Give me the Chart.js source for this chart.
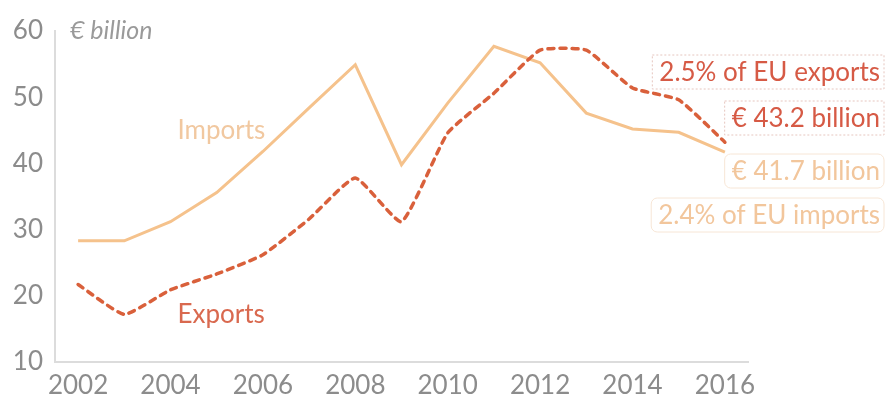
<!DOCTYPE html>
<html lang="en">
<head>
<meta charset="UTF-8">
<title>Imports and exports, € billion</title>
<script src="https://cdn.jsdelivr.net/npm/chart.js"></script>
<style>
    html, body {
        margin: 0;
        padding: 0;
        background: #fff;
    }
    #wrap {
        width: 886px;
        height: 401px;
    }
</style>
</head>
<body>
<div id="wrap">
    <canvas id="tradeChart" width="886" height="401"></canvas>
</div>
<script>
// yearly values, € billion
var years = [2002, 2003, 2004, 2005, 2006, 2007, 2008, 2009, 2010, 2011, 2012, 2013, 2014, 2015, 2016];
var importValues = [28.3, 28.3, 31.2, 35.6, 41.8, 48.4, 54.9, 39.8, 49.1, 57.7, 55.2, 47.6, 45.2, 44.7, 41.7];
var exportValues = [21.7, 17.2, 20.9, 23.3, 26.2, 31.6, 37.8, 31.2, 44.6, 50.6, 57.1, 57.1, 51.4, 49.6, 43.2];
var yTicks = [10, 20, 30, 40, 50, 60];
var exportShare = '2.5% of EU exports';
var importShare = '2.4% of EU imports';

var importColor = '#f5c28c';
var exportColor = '#d9603b';
var font = 'Lato, "Open Sans", sans-serif';

// series names, unit and the 2016 call-outs
var textPlugin = {
    id: 'tradeText',
    afterDatasetsDraw: function (chart) {
        var ctx = chart.ctx;
        var x = chart.scales.x;
        var y = chart.scales.y;
        var last = years.length - 1;

        ctx.save();
        ctx.textBaseline = 'middle';

        ctx.font = 'italic 25px ' + font;
        ctx.fillStyle = '#9a9a9a';
        ctx.textAlign = 'left';
        ctx.fillText('€ billion', 70, 31);

        ctx.font = '26px ' + font;
        ctx.fillStyle = '#f1c8a0';
        ctx.fillText('Imports', x.getPixelForValue(2) + 7, y.getPixelForValue(44.9));
        ctx.fillStyle = '#d9694f';
        ctx.fillText('Exports', x.getPixelForValue(2) + 7, y.getPixelForValue(17.2));

        var right = 880;
        function box(text, cy, textColor, lineColor, dotted) {
            var w = ctx.measureText(text).width;
            var left = right - w - 7;
            ctx.strokeStyle = lineColor;
            ctx.lineWidth = 1;
            ctx.setLineDash(dotted ? [2, 2] : []);
            ctx.beginPath();
            if (ctx.roundRect) {
                ctx.roundRect(left, cy - 17, 886 - left - 2, 34, dotted ? 0 : 6);
            } else {
                ctx.rect(left, cy - 17, 886 - left - 2, 34);
            }
            ctx.stroke();
            ctx.setLineDash([]);
            ctx.fillStyle = textColor;
            ctx.textAlign = 'right';
            ctx.fillText(text, right, cy + 1);
        }

        ctx.font = '26px ' + font;
        box(exportShare, 72, '#d65a45', '#e6c6bf', true);
        box('€ ' + exportValues[last].toFixed(1) + ' billion', 118, '#d65a45', '#e6c6bf', true);
        box('€ ' + importValues[last].toFixed(1) + ' billion', 171, '#f2c69c', '#f7e6d6', false);
        box(importShare, 215, '#f2c69c', '#f7e6d6', false);
        ctx.restore();
    }
};

var ctx = document.getElementById('tradeChart').getContext('2d');
var tradeChart = new Chart(ctx, {
    type: 'line',
    data: {
        labels: years,
        datasets: [
            {
                label: 'Exports',
                data: exportValues,
                borderColor: exportColor,
                borderWidth: 3.5,
                borderDash: [6, 6],
                borderCapStyle: 'round',
                pointRadius: 0,
                tension: 0.15,
                fill: false
            },
            {
                label: 'Imports',
                data: importValues,
                borderColor: importColor,
                borderWidth: 3,
                pointRadius: 0,
                tension: 0,
                fill: false
            }
        ]
    },
    options: {
        responsive: false,
        animation: false,
        devicePixelRatio: 1,
        layout: {
            padding: { top: 31, right: 138, left: 0, bottom: 0 }
        },
        plugins: {
            legend: { display: false },
            tooltip: { enabled: false }
        },
        scales: {
            x: {
                type: 'category',
                offset: true,
                grid: { display: false, drawTicks: false },
                border: { display: true, color: '#dcdcdc', width: 2 },
                ticks: {
                    autoSkip: false,
                    maxRotation: 0,
                    padding: 8,
                    color: '#8c8c8c',
                    font: { family: font, size: 26 },
                    callback: function (value, index) {
                        return years[index] % 2 === 0 ? String(years[index]) : '';
                    }
                },
                afterFit: function (scale) {
                    scale.height = 39;
                }
            },
            y: {
                min: 10,
                max: 60,
                grid: { display: false, drawTicks: false },
                border: { display: true, color: '#dcdcdc', width: 2 },
                ticks: {
                    padding: 12,
                    color: '#8c8c8c',
                    font: { family: font, size: 26 }
                },
                afterBuildTicks: function (scale) {
                    scale.ticks = yTicks.map(function (v) { return { value: v }; });
                },
                afterFit: function (scale) {
                    scale.width = 55;
                }
            }
        }
    },
    plugins: [textPlugin]
});
</script>
</body>
</html>
